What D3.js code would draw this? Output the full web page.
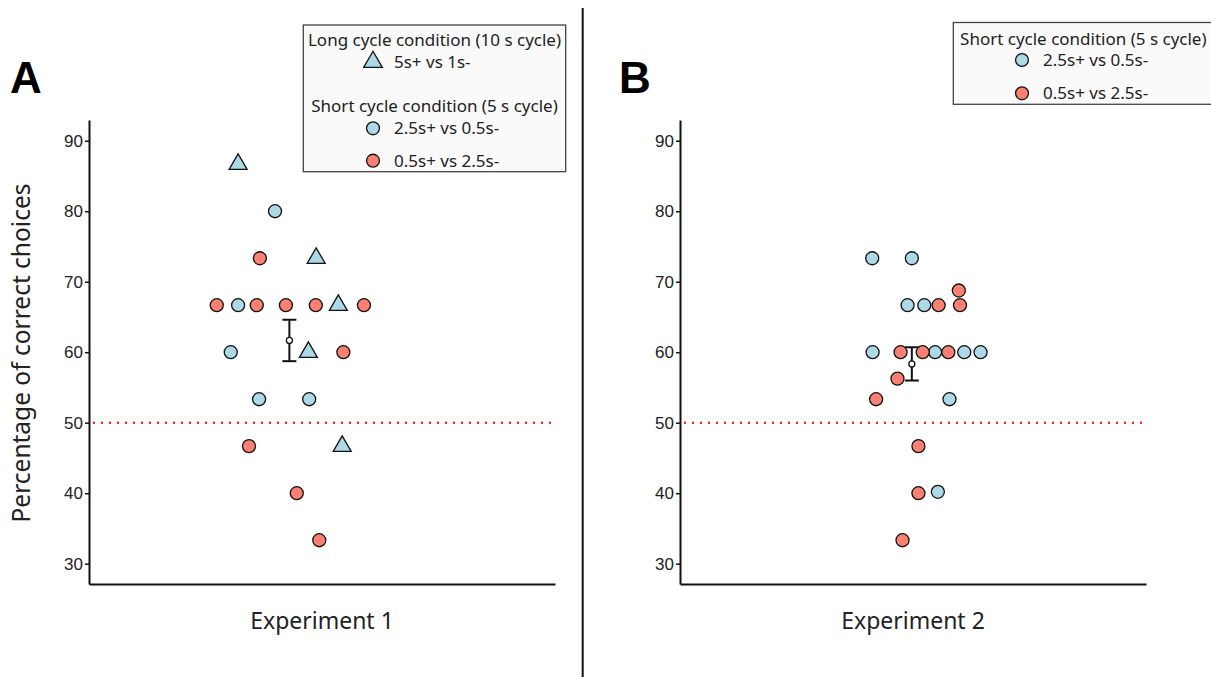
<!DOCTYPE html>
<html>
<head>
<meta charset="utf-8">
<script src="https://cdn.jsdelivr.net/npm/d3@7"></script>
<style>
  html, body { margin:0; padding:0; background:#fff; }
  svg { display:block; }
  .tick text { font-family:"Liberation Sans", Arial, sans-serif; font-size:17px; fill:#222; }
  .lab { font-family:"Noto Sans", sans-serif; fill:#222; }
</style>
</head>
<body>
<svg id="chart" width="1211" height="677"></svg>
<script>
/* Two-panel dot plot: percentage of correct choices per subject,
   Experiment 1 (long + short cycle) and Experiment 2 (short cycle only).
   x values are the horizontal jitter of each dot, around 1 = the category. */

// ---- Experiment 1 ----
var E1_LONG_Y  = [86.67, 73.33, 66.67, 60.00, 46.67];          // 5s+ vs 1s-
var E1_LONG_X  = [0.784, 0.985, 1.042, 0.965, 1.052];
var E1_BLUE_Y  = [80.00, 66.67, 60.00, 53.33, 53.33];          // 2.5s+ vs 0.5s-
var E1_BLUE_X  = [0.879, 0.784, 0.765, 0.838, 0.967];
var E1_RED_Y   = [73.33, 66.67, 66.67, 66.67, 66.67, 66.67, 60.00, 46.67, 40.00, 33.33]; // 0.5s+ vs 2.5s-
var E1_RED_X   = [0.840, 0.729, 0.832, 0.907, 0.984, 1.108, 1.055, 0.812, 0.935, 0.993];
var E1_MEAN_X  = 0.916;

// ---- Experiment 2 ----
var E2_BLUE_Y  = [73.33, 73.33, 66.67, 66.67, 60.00, 60.00, 60.00, 60.00, 53.33, 40.20];
var E2_BLUE_X  = [0.895, 0.997, 0.986, 1.029, 0.896, 1.057, 1.132, 1.174, 1.094, 1.064];
var E2_RED_Y   = [68.75, 66.67, 66.67, 60.00, 60.00, 60.00, 56.25, 53.33, 46.67, 40.00, 33.33];
var E2_RED_X   = [1.118, 1.066, 1.121, 0.968, 1.025, 1.091, 0.960, 0.905, 1.014, 1.014, 0.973];
var E2_MEAN_X  = 0.997;

var Y_TICKS  = [30, 40, 50, 60, 70, 80, 90];
var CHANCE   = 50;
var BLUE = '#add8e6', RED = '#fa8072';

(function(){
'use strict';
var svg = d3.select('#chart');

function pts(xs, ys){ return ys.map(function(y,i){ return { x:xs[i], y:y }; }); }

/* ------------------------------------------------------------- one panel */
function panel(o){
    var x = d3.scaleLinear([0.4, 1.6], [o.left, o.left + 466]);
    var y = d3.scaleLinear([27.12, 92.94], [584, 120]);
    var g = svg.append('g');

    // axes
    var ay = g.append('g').attr('transform','translate('+o.left+',0)')
        .call(d3.axisLeft(y).tickValues(Y_TICKS).tickSize(4).tickSizeOuter(0).tickPadding(2));
    var ax = g.append('g').attr('transform','translate(0,584)')
        .call(d3.axisBottom(x).tickValues([]).tickSizeOuter(0));
    [ay, ax].forEach(function(a){
        a.select('.domain').attr('stroke','#111').attr('stroke-width',2);
        a.selectAll('.tick line').attr('stroke','#111').attr('stroke-width',1.5);
    });

    // chance level
    g.append('line').attr('x1',x(0.4)+4).attr('x2',x(1.6))
        .attr('y1',y(CHANCE)).attr('y2',y(CHANCE))
        .attr('stroke','red').attr('stroke-width',2).attr('stroke-dasharray','2 6');

    // mean +- SEM of every subject in the panel
    var all = o.series.reduce(function(a,s){ return a.concat(s.d.map(function(p){ return p.y; })); }, []);
    var m = d3.mean(all), se = d3.deviation(all) / Math.sqrt(all.length);
    var mx = x(o.meanX);
    var eb = g.append('g').attr('stroke','#111').attr('stroke-width',2);
    eb.append('line').attr('x1',mx).attr('x2',mx).attr('y1',y(m-se)).attr('y2',y(m+se));
    eb.append('line').attr('x1',mx-7).attr('x2',mx+7).attr('y1',y(m+se)).attr('y2',y(m+se));
    eb.append('line').attr('x1',mx-7).attr('x2',mx+7).attr('y1',y(m-se)).attr('y2',y(m-se));
    g.append('circle').attr('cx',mx).attr('cy',y(m)).attr('r',3)
        .attr('fill','#fff').attr('stroke','#111').attr('stroke-width',1.3);

    // dots
    o.series.forEach(function(s){
        var sym = d3.symbol().type(s.tri ? d3.symbolTriangle : d3.symbolCircle).size(s.tri ? 140 : 133);
        g.append('g').selectAll('path').data(s.d).join('path')
            .attr('d', sym)
            .attr('transform', function(p){ return 'translate('+x(p.x)+','+y(p.y)+')'; })
            .attr('fill', s.fill).attr('stroke','#111').attr('stroke-width',1.3);
    });

    // x label, panel letter
    g.append('text').attr('class','lab').attr('x',x(1)).attr('y',629)
        .attr('text-anchor','middle').attr('font-size',23).text(o.xlabel);
    g.append('text').attr('x',o.letterX).attr('y',93)
        .attr('font-family','"Liberation Sans", Arial, sans-serif').attr('font-weight','bold')
        .attr('font-size',44).attr('fill','#000').text(o.letter);
}

/* ---------------------------------------------------------------- legend */
function legend(box, rows){
    var g = svg.append('g');
    g.append('rect').attr('x',box.x).attr('y',box.y).attr('width',box.w).attr('height',box.h)
        .attr('fill','#fafafa').attr('stroke','#444').attr('stroke-width',1.3);
    rows.forEach(function(r){
        if (r.title){
            g.append('text').attr('class','lab').attr('font-size',17)
                .attr('x',box.x + box.w/2).attr('y',r.y).attr('text-anchor','middle').text(r.title);
            return;
        }
        var sym = d3.symbol().type(r.tri ? d3.symbolTriangle : d3.symbolCircle).size(r.tri ? 150 : 130);
        g.append('path').attr('d',sym).attr('transform','translate('+box.sx+','+r.y+')')
            .attr('fill',r.fill).attr('stroke','#111').attr('stroke-width',1.3);
        g.append('text').attr('class','lab').attr('font-size',17)
            .attr('x',box.sx+21).attr('y',r.y).attr('dy','0.36em').text(r.label);
    });
}

panel({ left:89, letterX:10, meanX:E1_MEAN_X, xlabel:'Experiment 1', letter:'A', series:[
    { d:pts(E1_BLUE_X, E1_BLUE_Y), fill:BLUE },
    { d:pts(E1_RED_X,  E1_RED_Y),  fill:RED },
    { d:pts(E1_LONG_X, E1_LONG_Y), fill:BLUE, tri:true }
]});
panel({ left:680, letterX:619, meanX:E2_MEAN_X, xlabel:'Experiment 2', letter:'B', series:[
    { d:pts(E2_BLUE_X, E2_BLUE_Y), fill:BLUE },
    { d:pts(E2_RED_X,  E2_RED_Y),  fill:RED }
]});

// shared y title
svg.append('text').attr('class','lab').attr('font-size',24.5).attr('text-anchor','middle')
    .attr('transform','translate(30,353) rotate(-90)').text('Percentage of correct choices');

// divider between panels
svg.append('line').attr('x1',582.7).attr('x2',582.7).attr('y1',8).attr('y2',677)
    .attr('stroke','#111').attr('stroke-width',2);

legend({ x:303.3, y:25, w:262.4, h:146.7, sx:373 }, [
    { title:'Long cycle condition (10 s cycle)', y:45.5 },
    { tri:true, fill:BLUE, label:'5s+ vs 1s-', y:62 },
    { title:'Short cycle condition (5 s cycle)', y:112 },
    { fill:BLUE, label:'2.5s+ vs 0.5s-', y:128.3 },
    { fill:RED,  label:'0.5s+ vs 2.5s-', y:160.7 }
]);
legend({ x:953.3, y:22.5, w:260, h:81.8, sx:1022 }, [
    { title:'Short cycle condition (5 s cycle)', y:45 },
    { fill:BLUE, label:'2.5s+ vs 0.5s-', y:60 },
    { fill:RED,  label:'0.5s+ vs 2.5s-', y:93.3 }
]);
})();
</script>
</body>
</html>
